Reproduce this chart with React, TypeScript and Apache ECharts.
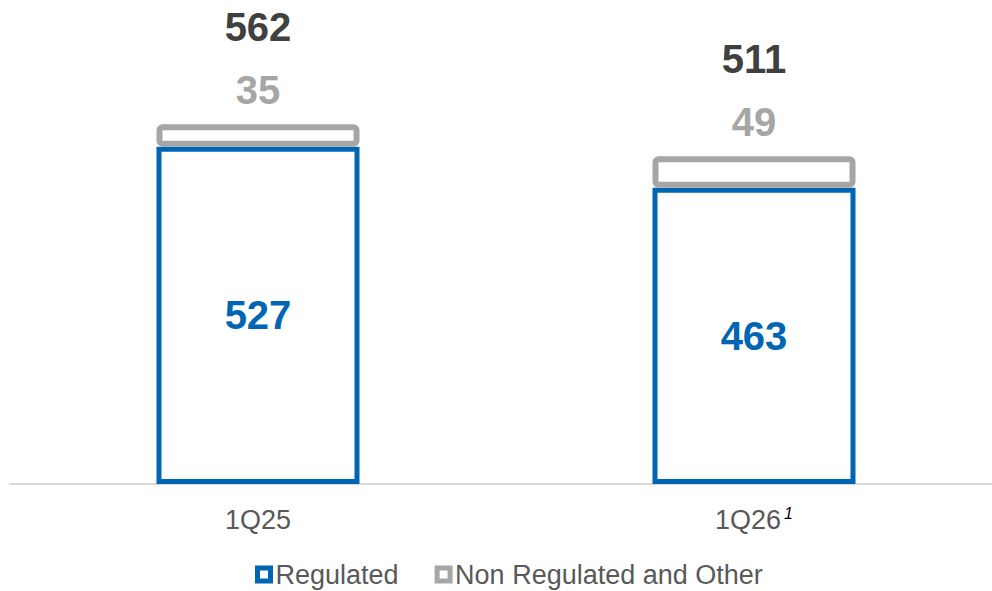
import React, { useEffect, useRef } from "react";
import * as echarts from "echarts";

const categories = ["1Q25", "1Q26"];
const footnotes = ["", "1"];
const regulated = [527, 463];
const nonRegulated = [35, 49];
const totals = [562, 511];

const BLUE = "#0066b3";
const GREY = "#a6a6a6";
const DARK = "#404040";
const AXIS_TEXT = "#595959";
const FONT = "'Liberation Sans', Arial, sans-serif";

export default function App() {
  const ref = useRef<HTMLDivElement>(null);
  useEffect(() => {
    document.body.style.margin = "0";
    const chart = echarts.init(ref.current!, undefined, { renderer: "svg" });
    chart.setOption({
      animation: false,
      textStyle: { fontFamily: FONT },
      grid: { left: 10, width: 992, top: 36, bottom: 107, containLabel: false },
      legend: {
        left: 250,
        top: 556,
        itemWidth: 13,
        itemHeight: 13,
        itemGap: 36,
        textStyle: { fontSize: 27, color: AXIS_TEXT, fontFamily: FONT },
        data: [
          {
            name: "Regulated",
            icon: "rect",
            itemStyle: { color: "#fff", borderColor: BLUE, borderWidth: 5 },
          },
          {
            name: "Non Regulated and Other",
            icon: "rect",
            itemStyle: { color: "#fff", borderColor: GREY, borderWidth: 5 },
          },
        ],
      },
      xAxis: {
        type: "category",
        data: categories,
        axisTick: { show: false },
        axisLine: { lineStyle: { color: "#d9d9d9", width: 2 } },
        axisLabel: {
          margin: 21,
          color: AXIS_TEXT,
          fontSize: 27,
          fontFamily: FONT,
          formatter: (v: string) => {
            const i = categories.indexOf(v);
            return footnotes[i] ? `{m|${v}}{s|${footnotes[i]}}` : `{m|${v}}`;
          },
          rich: {
            m: { fontSize: 27, color: AXIS_TEXT, fontFamily: FONT, lineHeight: 30 },
            s: {
              fontSize: 16,
              fontStyle: "italic",
              color: "#000",
              fontFamily: FONT,
              verticalAlign: "top",
              padding: [0, 0, 12, 3],
            },
          },
        },
      },
      yAxis: { type: "value", show: false, min: 0, max: 700, splitLine: { show: false } },
      series: [
        {
          name: "Regulated",
          type: "bar",
          stack: "t",
          barWidth: 203,
          data: regulated,
          itemStyle: { color: "#fff", borderColor: BLUE, borderWidth: 5 },
          label: {
            show: true,
            position: "inside",
            color: BLUE,
            fontSize: 40,
            fontWeight: "bold",
            fontFamily: FONT,
          },
        },
        {
          name: "Non Regulated and Other",
          type: "bar",
          stack: "t",
          barWidth: 203,
          data: nonRegulated,
          itemStyle: { color: "#fff", borderColor: GREY, borderWidth: 6, borderRadius: 3 },
          label: {
            show: true,
            position: "top",
            distance: 2,
            formatter: (p: any) => `{t|${totals[p.dataIndex]}}\n{v|${p.value}}`,
            rich: {
              t: { fontSize: 40, fontWeight: "bold", color: DARK, fontFamily: FONT, lineHeight: 62 },
              v: { fontSize: 40, fontWeight: "bold", color: GREY, fontFamily: FONT, lineHeight: 64 },
            },
          },
        },
      ],
    });
    return () => chart.dispose();
  }, []);
  return (
    <div style={{ width: 992, height: 591, overflow: "hidden", position: "relative" }}>
      <div ref={ref} style={{ width: 1012, height: 591 }} />
    </div>
  );
}
